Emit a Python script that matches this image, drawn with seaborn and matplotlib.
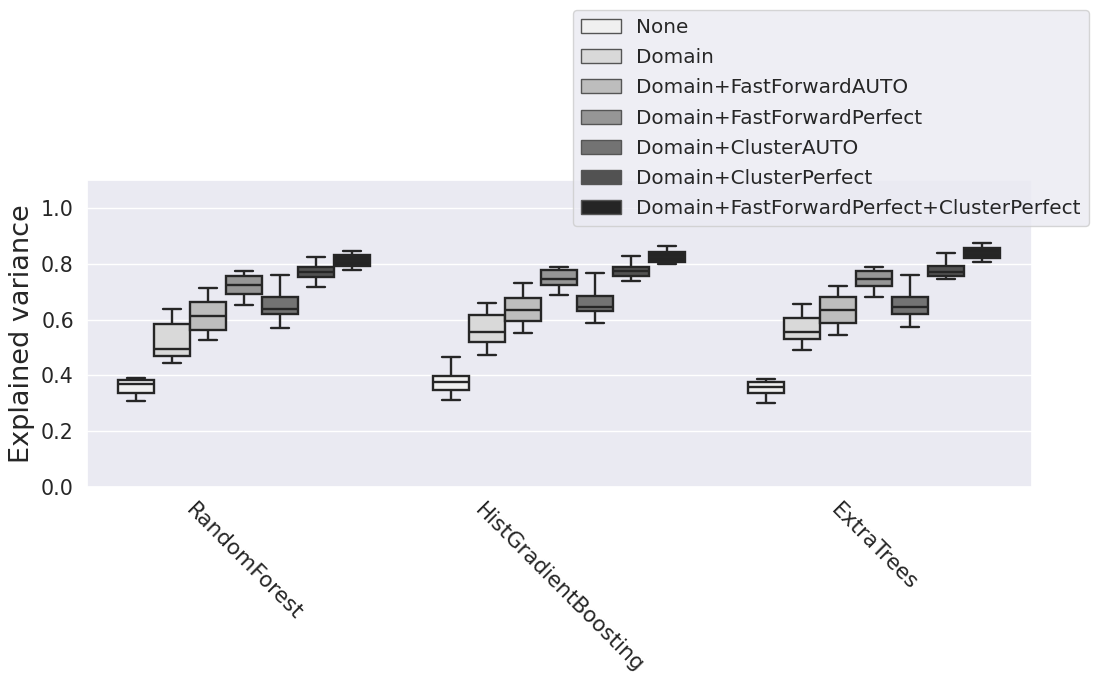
import numpy as np
import pandas as pd
import matplotlib
matplotlib.use("Agg")
import matplotlib.pyplot as plt
import seaborn as sns

models = ["RandomForest", "HistGradientBoosting", "ExtraTrees"]
feature_sets = [
    "None",
    "Domain",
    "Domain+FastForwardAUTO",
    "Domain+FastForwardPerfect",
    "Domain+ClusterAUTO",
    "Domain+ClusterPerfect",
    "Domain+FastForwardPerfect+ClusterPerfect",
]

# Five-number summaries per feature set: (min, q1, median, q3, max)
rf_scores = [
    [0.307, 0.338, 0.369, 0.385, 0.390],
    [0.446, 0.470, 0.495, 0.585, 0.636],
    [0.525, 0.564, 0.613, 0.662, 0.713],
    [0.652, 0.693, 0.724, 0.756, 0.775],
    [0.568, 0.619, 0.637, 0.680, 0.760],
    [0.715, 0.754, 0.769, 0.787, 0.825],
    [0.779, 0.793, 0.810, 0.832, 0.846],
]
hgb_scores = [
    [0.311, 0.346, 0.375, 0.396, 0.465],
    [0.474, 0.521, 0.556, 0.615, 0.659],
    [0.552, 0.596, 0.635, 0.676, 0.730],
    [0.689, 0.725, 0.744, 0.776, 0.787],
    [0.587, 0.629, 0.645, 0.686, 0.768],
    [0.738, 0.757, 0.773, 0.787, 0.829],
    [0.798, 0.806, 0.825, 0.843, 0.862],
]
et_scores = [
    [0.301, 0.335, 0.360, 0.377, 0.387],
    [0.492, 0.531, 0.556, 0.605, 0.657],
    [0.544, 0.588, 0.633, 0.682, 0.721],
    [0.681, 0.721, 0.746, 0.773, 0.787],
    [0.575, 0.621, 0.644, 0.682, 0.760],
    [0.745, 0.757, 0.770, 0.792, 0.839],
    [0.805, 0.821, 0.840, 0.856, 0.874],
]

grey_shades = ["#f0f0f0", "#d9d9d9", "#bdbdbd", "#969696",
               "#737373", "#525252", "#252525"]

rows = []
for model, scores in zip(models, [rf_scores, hgb_scores, et_scores]):
    for fs, vals in zip(feature_sets, scores):
        for v in vals:
            rows.append({"model": model, "features": fs, "score": v})
df = pd.DataFrame(rows)

sns.set_theme(style="darkgrid")
plt.rcParams["font.family"] = ["DejaVu Sans"]

fig = plt.figure(figsize=(10.94, 6.77), dpi=100)
ax = fig.add_axes([0.0795, 0.2807, 0.9433 - 0.0795, 0.7341 - 0.2807])

sns.boxplot(
    data=df, x="model", y="score", hue="features",
    order=models, hue_order=feature_sets,
    palette=grey_shades, saturation=1, whis=(0, 100),
    linecolor="#262626", linewidth=1.7, ax=ax,
)

ax.set_ylim(0, 1.1)
ax.set_yticks([0.0, 0.2, 0.4, 0.6, 0.8, 1.0])
ax.set_xlabel("")
ax.set_ylabel("Explained variance", fontsize=19.5)
ax.tick_params(axis="y", labelsize=14.8)
ax.tick_params(axis="x", labelsize=15.5)
for lbl in ax.get_xticklabels():
    lbl.set_rotation(-45)
    lbl.set_ha("center")

handles, labels = ax.get_legend_handles_labels()
leg = ax.legend(handles, labels, loc="upper right",
                bbox_to_anchor=(1089 / 1094, 1 - 10 / 677),
                bbox_transform=fig.transFigure, borderaxespad=0,
                fontsize=14.4, labelspacing=0.56, title=None)
for h in leg.legend_handles:
    h.set_linewidth(1.0)
    h.set_edgecolor("#555555")

fig.savefig("out.png", dpi=100)
